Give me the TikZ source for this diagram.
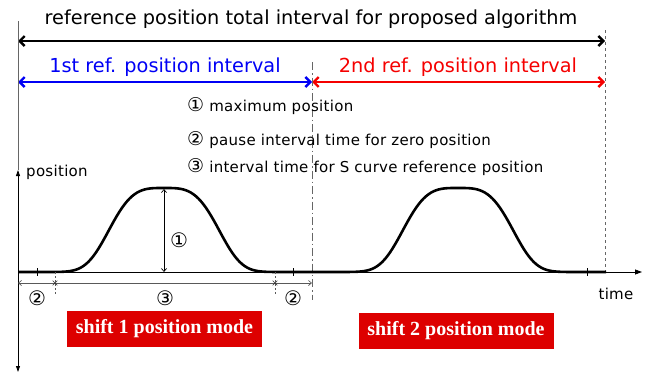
\documentclass[tikz,border=0pt]{standalone}
\usepackage{fontspec}
\setmainfont{DejaVu Sans}
\newfontfamily\legfont[LetterSpace=2]{DejaVu Sans}
\newfontfamily\circfont{DejaVu Sans}
\newfontfamily\modefont{Liberation Serif}
\usetikzlibrary{arrows.meta,calc,positioning,shapes.misc}
\definecolor{modered}{RGB}{221,0,0}
\definecolor{refblue}{RGB}{0,0,245}
\definecolor{refred}{RGB}{245,0,0}
\newcommand{\cn}[1]{{\circfont\fontsize{19}{18}\selectfont #1}}

\begin{document}
\begin{tikzpicture}[x=1pt,y=-1pt,
  every node/.style={inner sep=0pt},
  span/.style={line width=2.4pt,{Straight Barb[length=5pt,width=10pt]}-{Straight Barb[length=5pt,width=10pt]}},
  guide/.style={gray!80!black,line width=0.8pt},
  curve/.style={line width=2.6pt,line join=round},
  dimline/.style={gray!70!black,line width=0.7pt},
  xmark/.style={cross out,draw,gray!40!black,line width=0.6pt,minimum size=4pt},
  modebox/.style={fill=modered,text=white,font=\modefont\bfseries\fontsize{20}{23}\selectfont,minimum width=195pt,minimum height=36pt},
  legend/.style={anchor=west,font=\legfont\fontsize{15}{18}\selectfont},
  big/.style={font=\fontsize{19.3}{23}\selectfont},
  circ/.style={font=\circfont\fontsize{20}{22}\selectfont}]
  \useasboundingbox (0,0) rectangle (653,375);
  % interval frame
  \coordinate (t0) at (18,41);  \coordinate (t1) at (605,41);
  \coordinate (m0) at (18,82);  \coordinate (m1) at (312,82); \coordinate (m2) at (605,82);
  \node[big] (title) at (311,19) {reference position total interval for proposed algorithm};
  \draw[span] (t0) -- (t1);
  \node[big,text=refblue] (first) at (165,67) {1st ref. position interval};
  \node[big,text=refred] (second) at (458,67) {2nd ref. position interval};
  \draw[span,refblue] (m0) -- (m1);
  \draw[span,refred] (m1) -- (m2);
  \draw[guide,dash pattern=on 8pt off 3pt on 1.5pt off 3pt] (312,62) -- (312,300);
  \draw[guide,dashed] (605,30) -- (605,272);
  % legend
  \node[legend] (l1) at (187,106) {\cn{①} maximum position};
  \node[legend] (l2) at (187,140) {\cn{②} pause interval time for zero position};
  \node[legend] (l3) at (187,167) {\cn{③} interval time for S curve reference position};
  % axes
  \coordinate (o) at (18,272);
  \coordinate (ytop) at (18,170); \coordinate (ybot) at (18,372);
  \coordinate (xend) at (642,272);
  \draw[gray!80!black,line width=0.8pt] (18,21) -- (ytop);
  \draw[line width=0.8pt,{Triangle[length=6pt,width=4pt]}-{Triangle[length=6pt,width=4pt]}] (ybot) -- (ytop);
  \draw[line width=0.8pt,-{Triangle[length=7pt,width=5pt]}] (o) -- (xend);
  \node[legend] (ylab) at (26,172) {position};
  \node[legend,anchor=center] (xlab) at (616,294) {time};
  % S curves
  \foreach \s in {0,294}{
    \draw[curve] (18+\s,272) -- (50+\s,272)
      -- plot[domain=50:278,samples=90] ({\x+\s},{272-84*exp(-0.693*pow(abs(\x-164)/55,3.5))})
      -- (312+\s,272);
  }
  \foreach \x in {37,293,587}
    \draw[line width=0.6pt] (\x,268) -- (\x,276);
  % peak height
  \coordinate (pk) at (164,189); \coordinate (pb) at (164,272);
  \draw[line width=0.7pt,{Straight Barb[length=3pt,width=5pt]}-{Straight Barb[length=3pt,width=5pt]}] (pb) -- (pk);
  \node[circ] (h1) at (179,240) {①};
  % time spans
  \coordinate (d0) at (18,283); \coordinate (d1) at (55,283);
  \coordinate (d2) at (275,283); \coordinate (d3) at (312,283);
  \draw[dimline,{Straight Barb[length=3pt,width=5pt]}-] (d0) -- (d1);
  \draw[dimline] (d1) -- (d2);
  \draw[dimline,-{Straight Barb[length=3pt,width=5pt]}] (d2) -- (d3);
  \node[xmark] (x1) at (d1) {}; \node[xmark] (x2) at (d2) {};
  \draw[dimline,dash pattern=on 2pt off 2pt] (55,272) -- (55,294);
  \draw[dimline,dash pattern=on 2pt off 2pt] (275,272) -- (275,294);
  \node[circ] (p1) at (37,298) {②};
  \node[circ] (p2) at (165,298) {③};
  \node[circ] (p3) at (293,298) {②};
  % mode labels
  \node[modebox] (mode1) at (164.5,329) {shift 1 position mode};
  \node[modebox] (mode2) at (456,330.5) {shift 2 position mode};
\end{tikzpicture}
\end{document}
